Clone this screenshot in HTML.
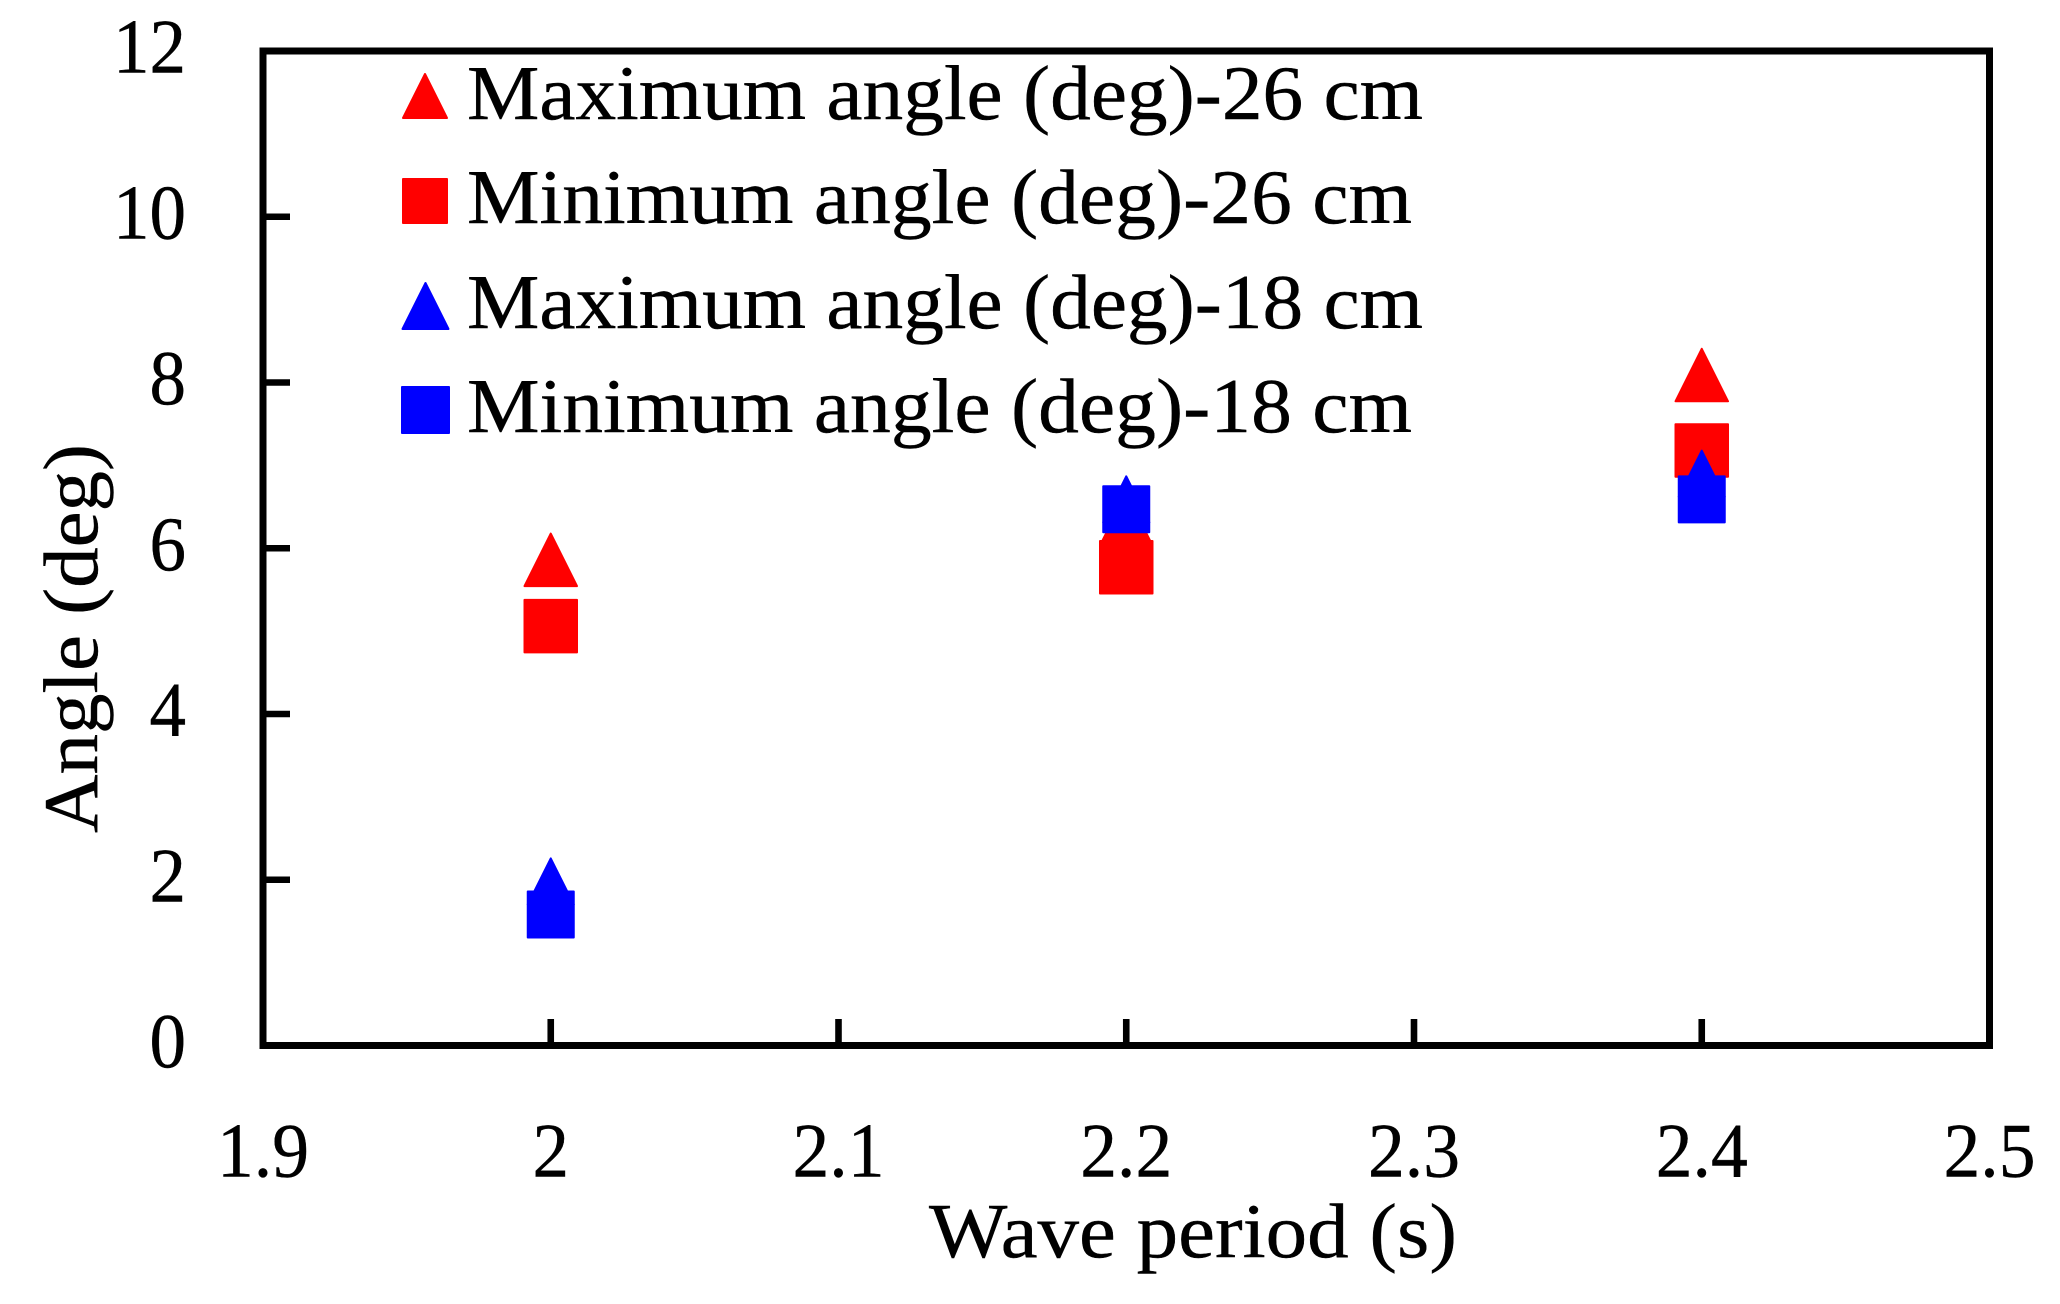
<!DOCTYPE html>
<html lang="en">
<head>
<meta charset="utf-8">
<title>Angle versus wave period</title>
<style>
  html, body { margin: 0; padding: 0; background: #ffffff; }
  svg { display: block; }
  text { font-family: "Liberation Serif", "DejaVu Serif", serif; fill: #000000; stroke: #000000; stroke-width: 0.4px; font-size: 77px; }
</style>
</head>
<body>
<svg id="chart" xmlns="http://www.w3.org/2000/svg" width="2060" height="1304" viewBox="0 0 2060 1304">
  <rect x="0" y="0" width="2060" height="1304" fill="#ffffff"/>
  <g id="ticks"></g>
  <g id="tick-labels"></g>
  <g id="marks"></g>
  <rect x="263" y="51" width="1726.5" height="994.5" fill="none" stroke="#000000" stroke-width="7"/>

  <g>
    <g>
      <polygon points="425,74 447,118 403,118" fill="#ff0000" stroke="#ff0000" stroke-width="2" stroke-linejoin="round"/>
      <text x="467" y="119" textLength="956" lengthAdjust="spacingAndGlyphs">Maximum angle (deg)-26 cm</text>
    </g>
    <g>
      <rect x="403" y="179" width="44" height="44" fill="#ff0000" stroke="#ff0000" stroke-width="2" stroke-linejoin="round"/>
      <text x="467" y="223" textLength="945" lengthAdjust="spacingAndGlyphs">Minimum angle (deg)-26 cm</text>
    </g>
    <g>
      <polygon points="425.5,283 448.5,329 402.5,329" fill="#0000ff" stroke="#0000ff" stroke-width="2" stroke-linejoin="round"/>
      <text x="467" y="328" textLength="956" lengthAdjust="spacingAndGlyphs">Maximum angle (deg)-18 cm</text>
    </g>
    <g>
      <rect x="402" y="387" width="47" height="46" fill="#0000ff" stroke="#0000ff" stroke-width="2" stroke-linejoin="round"/>
      <text x="467" y="432" textLength="945" lengthAdjust="spacingAndGlyphs">Minimum angle (deg)-18 cm</text>
    </g>
  </g>

  <text x="929" y="1257" textLength="528" lengthAdjust="spacingAndGlyphs">Wave period (s)</text>
  <text transform="translate(97 833) rotate(-90)" x="0" y="0" textLength="389" lengthAdjust="spacingAndGlyphs">Angle (deg)</text>
</svg>
<script>
var periods = [2, 2.2, 2.4];
var maxAngle26 = [5.86, 6.35, 8.09];
var minAngle26 = [5.06, 5.77, 7.18];
var maxAngle18 = [1.98, 6.59, 6.9];
var minAngle18 = [1.58, 6.47, 6.59];
var xTickValues = [1.9, 2, 2.1, 2.2, 2.3, 2.4, 2.5];
var xTickLabels = ["1.9", "2", "2.1", "2.2", "2.3", "2.4", "2.5"];
var yTickValues = [0, 2, 4, 6, 8, 10, 12];
var yTickLabels = ["0", "2", "4", "6", "8", "10", "12"];

var NS = "http://www.w3.org/2000/svg";
function xScale(v) { return 263 + (v - 1.9) * (1726.5 / 0.6); }
function yScale(v) { return 1045.5 - v * (994.5 / 12); }
function labelWidth(s) {
  var w = 0;
  for (var i = 0; i < s.length; i++) { w += s.charAt(i) === "." ? 19 : 36.5; }
  return w;
}

var tickLayer = document.getElementById("ticks");
var labelLayer = document.getElementById("tick-labels");
var markLayer = document.getElementById("marks");

xTickValues.forEach(function (v, i) {
  var x = xScale(v);
  if (i > 0 && i < xTickValues.length - 1) {
    var t = document.createElementNS(NS, "line");
    t.setAttribute("x1", x);
    t.setAttribute("x2", x);
    t.setAttribute("y1", 1019);
    t.setAttribute("y2", 1045);
    t.setAttribute("stroke", "#000000");
    t.setAttribute("stroke-width", "6.6");
    
    
    tickLayer.appendChild(t);
  }
  var s = xTickLabels[i];
  var w = labelWidth(s);
  var l = document.createElementNS(NS, "text");
  l.setAttribute("x", x - w / 2);
  l.setAttribute("y", 1176.5);
  l.setAttribute("textLength", w);
  l.setAttribute("lengthAdjust", "spacingAndGlyphs");
  l.textContent = s;
  
  
  labelLayer.appendChild(l);
});

yTickValues.forEach(function (v, i) {
  var y = yScale(v);
  if (i > 0 && i < yTickValues.length - 1) {
    var t = document.createElementNS(NS, "line");
    t.setAttribute("x1", 263);
    t.setAttribute("x2", 290);
    t.setAttribute("y1", y);
    t.setAttribute("y2", y);
    t.setAttribute("stroke", "#000000");
    t.setAttribute("stroke-width", "6.6");
    
    
    tickLayer.appendChild(t);
  }
  var s = yTickLabels[i];
  var w = labelWidth(s);
  var l = document.createElementNS(NS, "text");
  l.setAttribute("x", 186 - w);
  l.setAttribute("y", y + 21.5);
  l.setAttribute("textLength", w);
  l.setAttribute("lengthAdjust", "spacingAndGlyphs");
  l.textContent = s;
  
  
  labelLayer.appendChild(l);
});

function drawTriangles(values, color, size, name) {
  values.forEach(function (v, i) {
    var cx = xScale(periods[i]);
    var cy = yScale(v);
    var h = size / 2 - 1;
    var p = document.createElementNS(NS, "polygon");
    p.setAttribute("points", cx + "," + (cy - h) + " " + (cx + h) + "," + (cy + h) + " " + (cx - h) + "," + (cy + h));
    p.setAttribute("fill", color);
    p.setAttribute("stroke", color);
    p.setAttribute("stroke-width", "2");
    p.setAttribute("stroke-linejoin", "round");
    
    
    markLayer.appendChild(p);
  });
}
function drawSquares(values, color, size, name) {
  values.forEach(function (v, i) {
    var cx = xScale(periods[i]);
    var cy = yScale(v);
    var h = size / 2 - 1;
    var r = document.createElementNS(NS, "rect");
    r.setAttribute("x", cx - h);
    r.setAttribute("y", cy - h);
    r.setAttribute("width", h * 2);
    r.setAttribute("height", h * 2);
    r.setAttribute("fill", color);
    r.setAttribute("stroke", color);
    r.setAttribute("stroke-width", "2");
    r.setAttribute("stroke-linejoin", "round");
    
    
    markLayer.appendChild(r);
  });
}

drawTriangles(maxAngle26, "#ff0000", 54.5, "max-angle-26cm-point");
drawSquares(minAngle26, "#ff0000", 54.5, "min-angle-26cm-point");
drawTriangles(maxAngle18, "#0000ff", 48, "max-angle-18cm-point");
drawSquares(minAngle18, "#0000ff", 48, "min-angle-18cm-point");
</script>
</body>
</html>
